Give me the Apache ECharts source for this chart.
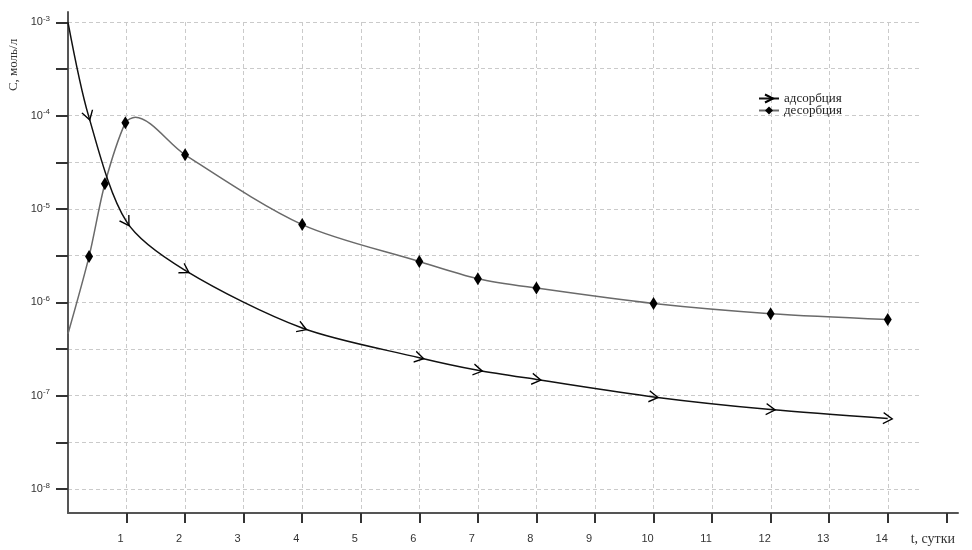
<!DOCTYPE html>
<html><head><meta charset="utf-8">
<script src="https://cdn.jsdelivr.net/npm/echarts@6/dist/echarts.min.js"></script>
<style>html,body{margin:0;padding:0;background:#fff}#c{width:972px;height:550px}</style>
</head><body><div id="c"></div>
<script>
// ---- data ----
const seriesNames = ['адсорбция', 'десорбция'];
const adsT = [0, 0.35, 1, 2, 4, 6, 7, 8, 10, 12, 14];
const adsC = [1e-3, 1.0e-4, 7.3e-6, 2.2e-6, 5.3e-7, 2.55e-7, 1.87e-7, 1.49e-7, 9.7e-8, 7.1e-8, 5.7e-8];
const adsMarked = [0, 1, 1, 1, 1, 1, 1, 1, 1, 1, 1];
const desT = [0, 0.36, 0.63, 0.98, 1.15, 2, 4, 6, 7, 8, 10, 12, 14];
const desC = [4.6e-7, 3.1e-6, 1.86e-5, 8.4e-5, 9.6e-5, 3.8e-5, 6.8e-6, 2.74e-6, 1.79e-6, 1.42e-6, 9.7e-7, 7.55e-7, 6.56e-7];
const desMarked = [0, 1, 1, 1, 0, 1, 1, 1, 1, 1, 1, 1, 1];
const xTicks = [1, 2, 3, 4, 5, 6, 7, 8, 9, 10, 11, 12, 13, 14, 15];
const xLabels = [1, 2, 3, 4, 5, 6, 7, 8, 9, 10, 11, 12, 13, 14];
const xGridVals = [1, 2, 3, 4, 5, 6, 7, 8, 9, 10, 11, 12, 13, 14];
const yTickExp = [-8, -7.5, -7, -6.5, -6, -5.5, -5, -4.5, -4, -3.5, -3];
const yLabelExp = [-8, -7, -6, -5, -4, -3];
const xAxisTitle = 't, сутки';
const yAxisTitle = 'C, моль/л';

// ---- build ----
const chart = echarts.init(document.getElementById('c'), null, {renderer: 'canvas'});
const arrowPath = 'path://M0,0L10,6L0,12';
const toPts = (T, C) => T.map((t, i) => [t, Math.log10(C[i])]);
const adsPts = toPts(adsT, adsC);
const desPts = toPts(desT, desC);
function mkData(pts, marked, rot) {
  return pts.map((p, i) => {
    const d = {value: p};
    if (!marked[i]) d.symbol = 'none';
    if (rot) d.symbolRotate = rot[i];
    return d;
  });
}
const gridLine = {show: true, lineStyle: {color: '#cacaca', type: [4, 3], width: 1}};
const option = {
  backgroundColor: '#fff',
  animation: false,
  grid: [
    {left: 68, right: 14, top: 12, bottom: 37},
    {left: 68, right: 50, top: 22, bottom: 37}
  ],
  xAxis: [
    {type: 'value', gridIndex: 0, min: 0, max: 15.2,
     axisLine: {lineStyle: {color: '#555', width: 2}},
     axisTick: {customValues: xTicks, length: 10, lineStyle: {color: '#333', width: 2}},
     axisLabel: {customValues: xLabels, margin: 20, color: '#333', fontFamily: 'Liberation Sans', fontSize: 11, padding: [0, 12, 0, 0]},
     splitLine: {show: false},
     name: xAxisTitle, nameLocation: 'end', nameGap: -3,
     nameTextStyle: {fontFamily: 'Liberation Serif', fontSize: 14, color: '#333', align: 'right', verticalAlign: 'top', padding: [19, 0, 0, 0]}
    },
    {type: 'value', gridIndex: 1, min: 0, max: 14.58,
     axisLine: {show: false}, axisTick: {show: false, customValues: xGridVals}, axisLabel: {show: false},
     splitLine: gridLine}
  ],
  yAxis: [
    {type: 'value', gridIndex: 0, min: -8.257, max: -2.89,
     axisLine: {show: true, lineStyle: {color: '#555', width: 2}},
     axisTick: {show: true, customValues: yTickExp, length: 12, lineStyle: {color: '#333', width: 2}},
     axisLabel: {customValues: yLabelExp, margin: 18, color: '#333',
       formatter: v => '{b|10}{s|' + Math.round(v) + '}',
       rich: {b: {fontFamily: 'Liberation Sans', fontSize: 11, color: '#333'},
              s: {fontFamily: 'Liberation Sans', fontSize: 8, color: '#333', padding: [0, 0, 7, 0]}}},
     splitLine: {show: false}
    },
    {type: 'value', gridIndex: 1, min: -8.257, max: -3,
     axisLine: {show: false}, axisTick: {show: false, customValues: yTickExp}, axisLabel: {show: false},
     splitLine: gridLine}
  ],
  legend: {
    orient: 'vertical', left: 753, top: 87, itemWidth: 20, itemHeight: 10, itemGap: -1,
    data: seriesNames,
    textStyle: {fontFamily: 'Liberation Serif', fontSize: 13, color: '#222', lineHeight: 12}
  },
  graphic: [{
    type: 'text', x: 14, y: 65, rotation: Math.PI / 2,
    style: {text: yAxisTitle, font: '13px "Liberation Serif"', fill: '#333', align: 'center', verticalAlign: 'middle'}
  }],
  series: [
    {name: seriesNames[0], type: 'line', xAxisIndex: 0, yAxisIndex: 0, smooth: 0.3,
     symbol: arrowPath, symbolSize: [9, 11], showAllSymbol: true,
     lineStyle: {color: '#111', width: 1.5},
     itemStyle: {color: 'rgba(0,0,0,0)', borderColor: '#000', borderWidth: 1.3},
     data: mkData(adsPts, adsMarked), z: 3},
    {name: seriesNames[1], type: 'line', xAxisIndex: 0, yAxisIndex: 0, smooth: 0.3,
     symbol: 'diamond', symbolSize: [8, 13], showAllSymbol: true,
     lineStyle: {color: '#6a6a6a', width: 1.5},
     itemStyle: {color: '#000'},
     data: mkData(desPts, desMarked), z: 2}
  ]
};
chart.setOption(option);
// orient arrow heads along the curve using the chart's own scales
const px = adsPts.map(p => chart.convertToPixel({xAxisIndex: 0, yAxisIndex: 0}, p));
const rot = px.map((p, i) => {
  const a = px[Math.max(0, i - 1)], b = px[Math.min(px.length - 1, i + 1)];
  return -Math.atan2(b[1] - a[1], b[0] - a[0]) * 180 / Math.PI;
});
chart.setOption({series: [{name: seriesNames[0], data: mkData(adsPts, adsMarked, rot)}]});
</script></body></html>
